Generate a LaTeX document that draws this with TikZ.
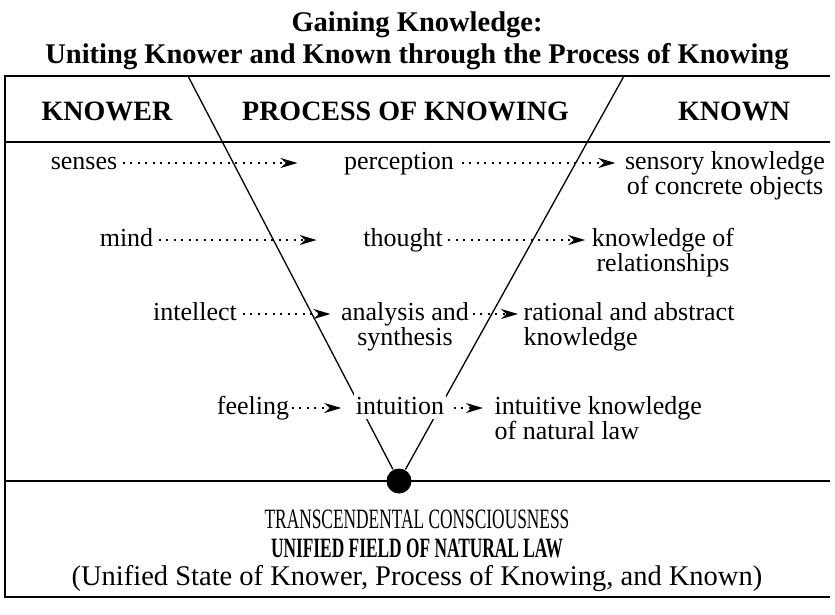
\documentclass[tikz,border=0pt]{standalone}
\usepackage{fontspec}
\setmainfont{Liberation Serif}
\newfontfamily\narrowserif[FakeStretch=0.62]{Liberation Serif}
\usepackage{tikz}
\usetikzlibrary{
    arrows.meta
}

\begin{document}
\begin{tikzpicture}[x=1pt,y=-1pt,>={Stealth[length=17pt,width=10pt]},line width=1.3pt]
    \tikzstyle{every node}=[inner sep=0pt, font=\fontsize{26}{24.5}\selectfont]
    \tikzstyle{word}=[anchor=base]
    \tikzstyle{head}=[anchor=base, font=\fontsize{28}{30}\selectfont\bfseries]
    \tikzstyle{block}=[anchor=north, align=center]
    \tikzstyle{lblock}=[anchor=north west, align=left]
    \tikzstyle{dotarrow}=[->, line width=2pt, dash pattern=on 2pt off 5.5pt]
    \useasboundingbox (0,0) rectangle (835,614);
    \node[anchor=base, font=\fontsize{28.5}{30}\selectfont\bfseries] (t1) at (417,31) {Gaining Knowledge:};
    \node[anchor=base, font=\fontsize{28.5}{30}\selectfont\bfseries] (t2) at (417,63) {Uniting Knower and Known through the Process of Knowing};
    \draw (830,76) -- (5,76);
    \draw (5,597) -- (830,597);
    \draw[line width=2.5pt] (5,75) -- (5,598);
    \draw (5,142) -- (830,142);
    \draw (5,481) -- (830,481);
    \node[circle, fill, minimum size=25pt] (dot) at (399,481) {};
    \coordinate (vl) at (188,76);
    \coordinate (vr) at (624,76);
    \draw (vl) -- (dot);
    \draw (vr) -- (dot);
    \node[head] (knower) at (107,120) {KNOWER};
    \node[head] (process) at (405.5,120) {PROCESS OF KNOWING};
    \node[head] (known) at (734,120) {KNOWN};
    \node[word] (senses) at (84,169) {senses};
    \node[word] (perc) at (399,169) {perception};
    \node[block] (sens) at (725,151) {sensory knowledge\\of concrete objects};
    \node[word] (mind) at (126.5,246) {mind};
    \node[word] (thought) at (403,246) {thought};
    \node[block] (knowof) at (663,228) {knowledge of\\relationships};
    \node[word] (intellect) at (195,320) {intellect};
    \node[block] (analysis) at (405,302) {analysis and\\synthesis};
    \node[lblock] (rational) at (523,302) {rational and abstract\\knowledge};
    \node[word] (feeling) at (253,414) {feeling};
    \node[word, fill=white, inner ysep=5pt, inner xsep=2pt] (intuit) at (400,414) {intuition};
    \node[lblock] (intuitive) at (494,396) {intuitive knowledge\\of natural law};
    \coordinate (r1) at (0,163);
    \coordinate (r2) at (0,240);
    \coordinate (r3) at (0,314);
    \coordinate (r4) at (0,408);
    \path (r1 -| senses.east) edge[dotarrow, shorten <=5pt, shorten >=46pt] (r1 -| perc.west);
    \path (r1 -| perc.east) edge[dotarrow, shorten <=7pt, shorten >=9pt] (r1 -| sens.west);
    \path (r2 -| mind.east) edge[dotarrow, shorten <=5pt, shorten >=46pt] (r2 -| thought.west);
    \path (r2 -| thought.east) edge[dotarrow, shorten <=5pt, shorten >=6pt] (r2 -| knowof.west);
    \path (r3 -| intellect.east) edge[dotarrow, shorten <=5pt, shorten >=10pt] (r3 -| analysis.west);
    \path (r3 -| analysis.east) edge[dotarrow, shorten <=3pt, shorten >=5pt] (r3 -| rational.west);
    \path (r4 -| feeling.east) edge[dotarrow, shorten <=2pt, shorten >=12pt] (r4 -| intuit.west);
    \path (r4 -| intuit.east) edge[dotarrow, shorten <=7pt, shorten >=11pt] (r4 -| intuitive.west);
    \node[anchor=base, font=\fontsize{28}{30}\narrowserif\selectfont] (tc) at (417,528) {TRANSCENDENTAL CONSCIOUSNESS};
    \node[anchor=base, font=\fontsize{28}{30}\narrowserif\selectfont\bfseries] (uf) at (417,557) {UNIFIED FIELD OF NATURAL LAW};
    \node[anchor=base, font=\fontsize{28.5}{30}\selectfont] (us) at (417,585) {(Unified State of Knower, Process of Knowing, and Known)};
\end{tikzpicture}
\end{document}
